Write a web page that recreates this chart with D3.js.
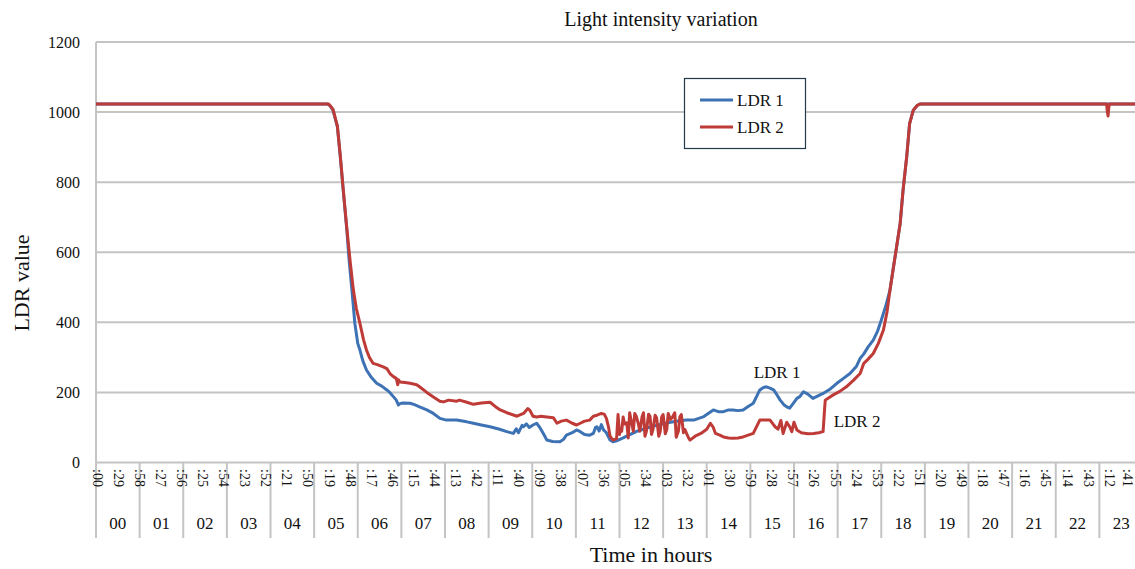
<!DOCTYPE html>
<html>
<head>
<meta charset="utf-8">
<script src="https://cdn.jsdelivr.net/npm/d3@7"></script>
<style>
  html, body { margin: 0; padding: 0; background: #fff; }
  svg { display: block; font-family: "Liberation Serif", "Times New Roman", serif; }
</style>
</head>
<body>
<svg id="chart" width="1135" height="569"></svg>
<script>
// ---- Data (minutes since 00:00, LDR reading) ----
const ldr1Time = [0,318,322,326,332,336,340,345,348,352,356,360,363,367,372,378,386,393,400,404,409,413,416,418,422,432,438,445,455,464,473,482,496,510,519,530,542,555,565,574,578,581,583,586,588,592,596,601,606,611,616,620,628,638,643,647,655,661,666,672,679,684,687,689,692,695,698,702,707,711,716,725,735,745,760,775,790,805,812,822,835,842,849,856,863,870,876,883,890,897,904,909,913,918,922,927,932,936,941,946,950,954,959,964,968,973,979,986,993,1000,1010,1019,1028,1037,1046,1051,1056,1062,1069,1075,1080,1086,1092,1099,1106,1110,1115,1119,1124,1129,1133,1440];
const ldr1Value = [1023,1023,1018,1005,958,872,777,663,580,492,397,340,321,290,264,245,226,218,207,200,188,178,164,168,170,169,165,159,150,140,126,121,121,116,112,107,102,95,88,83,96,85,93,106,102,110,100,107,112,98,80,64,60,59,66,78,85,93,88,80,78,83,100,102,90,108,93,85,64,59,62,70,80,90,100,108,115,120,121,121,130,140,150,145,145,150,150,148,150,160,169,190,207,214,216,212,207,195,178,165,159,155,169,183,188,202,195,183,190,197,210,226,240,254,275,297,310,330,349,375,406,445,492,587,682,777,872,967,1005,1018,1023,1023];

const ldr2Time = [0,320,326,332,336,340,345,350,354,358,363,368,372,376,381,386,395,400,405,409,413,415,416,418,425,432,441,445,455,464,473,478,485,496,500,510,519,530,542,549,556,565,579,588,594,597,601,606,612,620,629,634,640,647,655,661,666,672,679,684,689,695,699,702,705,707,711,716,718,720,721,723,725,727,730,732,734,737,739,741,743,746,748,751,753,755,757,760,762,764,766,769,771,774,776,778,780,783,785,787,790,793,796,798,801,803,805,808,810,815,817,824,832,840,845,849,852,858,863,870,876,883,890,897,904,908,913,920,927,931,934,938,942,945,950,954,957,960,964,970,979,987,994,1000,1002,1003,1008,1014,1023,1032,1042,1051,1056,1062,1069,1076,1083,1088,1092,1099,1106,1110,1115,1119,1124,1130,1134,1390,1391,1392,1393,1394,1440];
const ldr2Value = [1023,1023,1008,960,875,780,668,565,492,440,397,350,321,300,283,280,273,268,252,245,240,222,236,230,228,226,222,216,200,187,175,173,178,175,178,172,166,170,172,160,150,142,132,140,154,148,132,130,132,130,128,112,118,121,112,107,112,118,121,132,135,140,138,126,100,75,64,68,137,80,95,89,130,110,113,70,142,110,89,140,132,110,89,130,142,75,89,138,132,80,94,135,128,75,89,130,137,82,94,140,123,130,142,72,89,130,137,85,94,70,64,75,83,95,112,100,83,78,73,70,69,70,73,78,83,100,121,121,121,110,102,95,120,83,115,102,88,115,93,85,82,83,85,88,150,178,185,193,203,216,235,254,283,295,311,340,378,430,492,587,682,777,872,967,1005,1020,1023,1023,1000,989,1015,1023,1023];

const yTicks = [0, 200, 400, 600, 800, 1000, 1200];
const hourLabels = ["00","01","02","03","04","05","06","07","08","09","10","11","12","13","14","15","16","17","18","19","20","21","22","23"];
const minuteLabels = [":00",":29",":58",":27",":56",":25",":54",":23",":52",":21",":50",":19",":48",":17",":46",":15",":44",":13",":42",":11",":40",":09",":38",":07",":36",":05",":34",":03",":32",":01",":30",":59",":28",":57",":26",":55",":24",":53",":22",":51",":20",":49",":18",":47",":16",":45",":14",":43",":12",":41"];
const seriesNames = ["LDR 1", "LDR 2"];

// ---- Styles ----
const COLORS = ["#3d72b4", "#bf3b37"];
const GRID = "#c4c4c4";

const svg = d3.select("#chart");
const W = 1135;
const x = d3.scaleLinear().domain([0, 1440]).range([96, 1143]);
const y = d3.scaleLinear().domain([0, 1200]).range([462.5, 42]);

// gridlines
svg.append("g").selectAll("line").data(yTicks).join("line")
  .attr("x1", 96).attr("x2", W)
  .attr("y1", d => y(d)).attr("y2", d => y(d))
  .attr("stroke", GRID).attr("stroke-width", 2);

// y axis line
svg.append("line").attr("x1", 96).attr("x2", 96).attr("y1", y(1200)).attr("y2", y(0))
  .attr("stroke", GRID).attr("stroke-width", 2);

// y tick labels
svg.append("g").selectAll("text").data(yTicks).join("text")
  .attr("x", 80).attr("y", d => y(d)).attr("dy", "0.35em")
  .attr("text-anchor", "end").attr("font-size", 16).attr("fill", "#111")
  .text(d => d);

// hour dividers
const hourIdx = d3.range(hourLabels.length + 1);
svg.append("g").selectAll("line").data(hourIdx).join("line")
  .attr("x1", h => x(h * 60)).attr("x2", h => x(h * 60))
  .attr("y1", y(0)).attr("y2", 538)
  .attr("stroke", GRID).attr("stroke-width", 2);

// minute labels
svg.append("g").selectAll("text").data(minuteLabels).join("text")
  .attr("transform", (d, i) => `translate(${Math.min(x(i * 29) + 1.5, 1128)},469) rotate(90)`)
  .attr("dy", "0.35em").attr("font-size", 14).attr("fill", "#111")
  .text(d => d);

// hour labels
svg.append("g").selectAll("text").data(hourLabels).join("text")
  .attr("x", (d, i) => x(i * 60 + 30)).attr("y", 529)
  .attr("text-anchor", "middle").attr("font-size", 17).attr("fill", "#111")
  .text(d => d);

// lines
const line = d3.line().x(d => x(d[0])).y(d => y(d[1]));
const s1 = ldr1Time.map((t, i) => [t, ldr1Value[i]]);
const s2 = ldr2Time.map((t, i) => [t, ldr2Value[i]]);
[s1, s2].forEach((s, k) => {
  svg.append("path").datum(s).attr("d", line)
    .attr("fill", "none").attr("stroke", COLORS[k]).attr("stroke-width", 3)
    .attr("stroke-linejoin", "round");
});

// title & axis titles
svg.append("text").attr("x", 661).attr("y", 26).attr("text-anchor", "middle")
  .attr("font-size", 20).attr("fill", "#111").text("Light intensity variation");
svg.append("text").attr("x", 651).attr("y", 562).attr("text-anchor", "middle")
  .attr("font-size", 22).attr("fill", "#111").text("Time in hours");
svg.append("text").attr("transform", "translate(29,283) rotate(-90)").attr("text-anchor", "middle")
  .attr("font-size", 22).attr("fill", "#111").text("LDR value");

// annotations
svg.append("text").attr("x", 777).attr("y", 378).attr("text-anchor", "middle")
  .attr("font-size", 17).attr("fill", "#111").text(seriesNames[0]);
svg.append("text").attr("x", 857).attr("y", 427).attr("text-anchor", "middle")
  .attr("font-size", 17).attr("fill", "#111").text(seriesNames[1]);

// legend
const lg = svg.append("g");
lg.append("rect").attr("x", 684.5).attr("y", 78.5).attr("width", 121).attr("height", 70)
  .attr("fill", "#fff").attr("stroke", "#22394a").attr("stroke-width", 1.2);
seriesNames.forEach((n, k) => {
  const yy = 100 + k * 27;
  lg.append("line").attr("x1", 700).attr("x2", 733).attr("y1", yy).attr("y2", yy)
    .attr("stroke", COLORS[k]).attr("stroke-width", 2.8);
  lg.append("text").attr("x", 737).attr("y", yy).attr("dy", "0.35em")
    .attr("font-size", 17).attr("fill", "#111").text(n);
});
</script>
</body>
</html>
